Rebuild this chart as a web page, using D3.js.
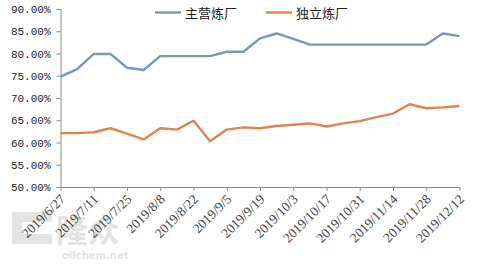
<!DOCTYPE html>
<html>
<head>
<meta charset="utf-8">
<script src="https://cdn.jsdelivr.net/npm/d3@7"></script>
<style>
  html, body { margin: 0; padding: 0; background: #fff; }
  svg { display: block; }
</style>
</head>
<body>
<svg id="chart" width="480" height="266"></svg>
<script>
// ====== Datos ======
const dates = [
  "2019/6/27", "2019/7/4", "2019/7/11", "2019/7/18", "2019/7/25",
  "2019/8/1", "2019/8/8", "2019/8/15", "2019/8/22", "2019/8/29",
  "2019/9/5", "2019/9/12", "2019/9/19", "2019/9/26", "2019/10/3",
  "2019/10/10", "2019/10/17", "2019/10/24", "2019/10/31", "2019/11/7",
  "2019/11/14", "2019/11/21", "2019/11/28", "2019/12/5", "2019/12/12"
];

// 主营炼厂 (%)
const mainRefinery = [
  74.8, 76.5, 79.9, 79.9, 76.8, 76.3, 79.4, 79.4, 79.4, 79.4,
  80.4, 80.4, 83.4, 84.5, 83.3, 82.0, 82.0, 82.0, 82.0, 82.0,
  82.0, 82.0, 82.0, 84.5, 83.9
];

// 独立炼厂 (%)
const indepRefinery = [
  62.1, 62.1, 62.3, 63.2, 62.0, 60.7, 63.2, 62.9, 64.9, 60.3,
  62.9, 63.4, 63.2, 63.7, 64.0, 64.3, 63.6, 64.3, 64.8, 65.7,
  66.5, 68.6, 67.7, 67.9, 68.2
];

const yTicks = [50, 55, 60, 65, 70, 75, 80, 85, 90];
const seriesNames = ["主营炼厂", "独立炼厂"];
const colors = ["#7b98b0", "#e0844e"];

// ====== Escalas ======
const svg = d3.select("#chart");
const plotLeft = 60.5, plotRight = 459.5, plotTop = 9, plotBottom = 187;

const x = d3.scalePoint().domain(dates).range([plotLeft, plotRight]);
const y = d3.scaleLinear().domain([50, 90]).range([plotBottom, plotTop]);

// Marca de agua (oilchem)
const wm = svg.append("g").attr("opacity", 0.5);
wm.append("path")
  .attr("d", "M12,212 h40 v10 h-30 v12 h30 v10 h-40 z")
  .attr("fill", "#c8c8c8");
wm.append("text")
  .attr("x", 56).attr("y", 242)
  .attr("font-family", "Noto Sans CJK SC")
  .attr("font-weight", "bold")
  .attr("font-size", 32)
  .attr("fill", "#c8c8c8")
  .text("隆众");
wm.append("text")
  .attr("x", 62).attr("y", 259)
  .attr("font-family", "DejaVu Sans")
  .attr("font-weight", "bold")
  .attr("font-size", 10)
  .attr("fill", "#c8c8c8")
  .text("oilchem.net");

// Eje Y
const yAxis = svg.append("g")
  .attr("transform", `translate(${plotLeft},0)`)
  .call(d3.axisLeft(y).tickValues(yTicks).tickSize(4).tickFormat(d => d.toFixed(2) + "%"));
yAxis.select(".domain").attr("stroke", "#8c8c8c");
yAxis.selectAll(".tick line").attr("stroke", "#8c8c8c");
yAxis.selectAll("text")
  .attr("font-family", "Liberation Mono")
  .attr("font-size", 11)
  .attr("fill", "#222")
  .attr("x", -10);

// Eje X (etiquetas cada dos semanas)
const xLabels = dates.filter((d, i) => i % 2 === 0);
const xAxis = svg.append("g")
  .attr("transform", `translate(0,${plotBottom})`)
  .call(d3.axisBottom(x).tickValues(xLabels).tickSize(4).tickSizeOuter(0));
xAxis.select(".domain").attr("stroke", "#8c8c8c");
xAxis.selectAll(".tick line").attr("stroke", "#8c8c8c");
xAxis.selectAll("text")
  .attr("font-family", "Liberation Serif")
  .attr("font-size", 13.5)
  .attr("fill", "#444")
  .attr("text-anchor", "end")
  .attr("dy", 0)
  .attr("transform", "translate(5,13) rotate(-45)")
  .attr("x", 0).attr("y", 0);

// Líneas
const line = d3.line()
  .x((d, i) => x(dates[i]))
  .y(d => y(d));

[mainRefinery, indepRefinery].forEach((vals, k) => {
  svg.append("path")
    .datum(vals)
    .attr("fill", "none")
    .attr("stroke", colors[k])
    .attr("stroke-width", 2.4)
    .attr("stroke-linejoin", "round")
    .attr("d", line);
});

// Leyenda
const legendX = [155, 266];
seriesNames.forEach((name, k) => {
  const g = svg.append("g").attr("transform", `translate(${legendX[k]},12.5)`);
  g.append("line")
    .attr("x1", 0).attr("x2", 26)
    .attr("stroke", colors[k]).attr("stroke-width", 2.4);
  g.append("text")
    .attr("x", 30).attr("y", 5)
    .attr("font-family", "Noto Sans CJK SC")
    .attr("font-size", 13)
    .attr("fill", "#222")
    .text(name);
});
</script>
</body>
</html>
